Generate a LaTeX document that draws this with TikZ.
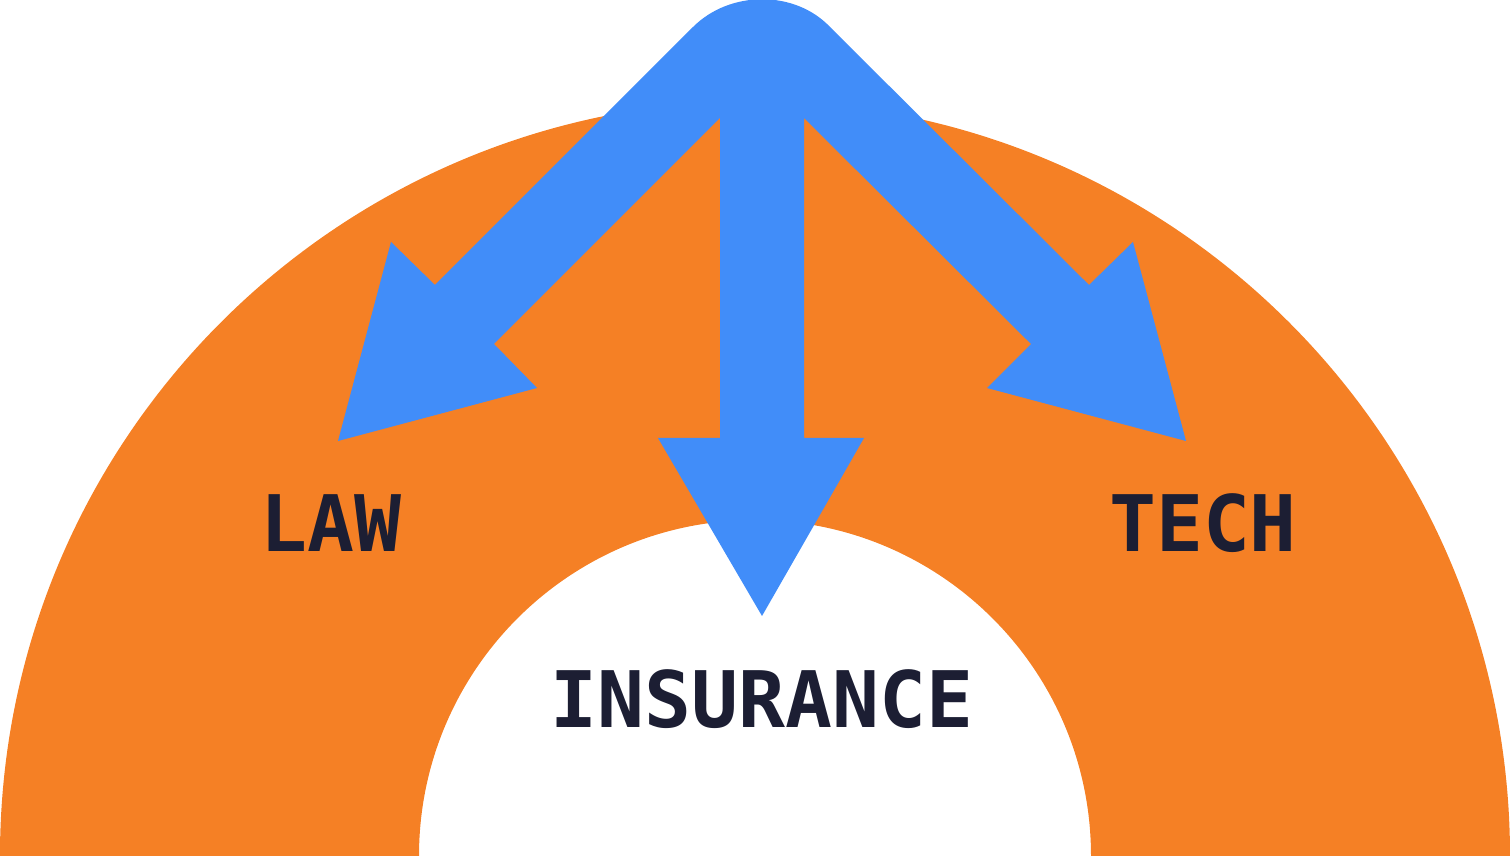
\documentclass[tikz,border=0pt]{standalone}
\usepackage{fontspec}
\newfontfamily\labfont{DejaVu Sans Mono}[FakeBold=0]
\definecolor{orng}{HTML}{F58025}
\definecolor{blu}{HTML}{418DF9}
\definecolor{navy}{HTML}{1C1E33}
\begin{document}
\begin{tikzpicture}[x=1pt,y=1pt,
  lab/.style={text=navy,inner sep=0pt,font=\labfont\bfseries\fontsize{78}{78}\selectfont}]
\useasboundingbox (0,0) rectangle (1510,856);
\fill[orng] (0,0) arc[start angle=180,end angle=0,radius=755] -- (1091,0) arc[start angle=0,end angle=180,radius=336] -- cycle;
\fill[blu] (720,738) -- (494,512) -- (537,468) -- (338,415) -- (391,614) -- (435,571) -- (693,829)
  .. controls (730,866) and (795,866) .. (830,829) -- (1089,571) -- (1133,614) -- (1186,415)
  -- (987,468) -- (1031,512) -- (804,738) -- (804,418) -- (864,418) -- (762,240) -- (658,418) -- (720,418) -- cycle;
\node[lab] (law) at (331,333) {LAW};
\node[lab] (tech) at (1203,333) {TECH};
\node[lab] (ins) at (762,157) {INSURANCE};
\end{tikzpicture}
\end{document}
